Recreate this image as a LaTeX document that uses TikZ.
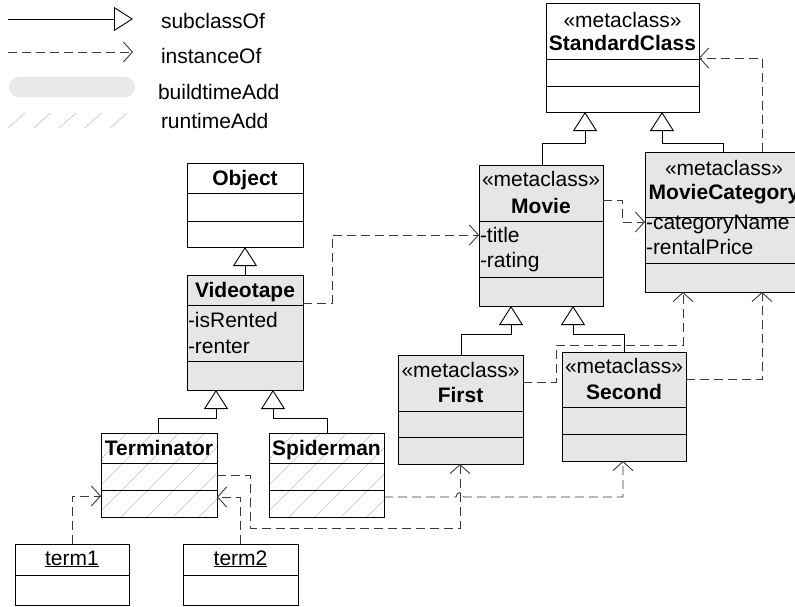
\documentclass[tikz,border=0pt]{standalone}
\usepackage{fontspec}
\setmainfont{Liberation Sans}
\usetikzlibrary{arrows.meta}
\definecolor{boxgray}{HTML}{E6E6E6}
\definecolor{legendgray}{HTML}{E8E8E8}
\definecolor{dashgray}{HTML}{3A3A3A}
\definecolor{hatchgray}{HTML}{C4C4C4}
\tikzset{
  cls/.style={draw=black, line width=0.9pt, inner sep=0pt, outer sep=0pt, anchor=north west},
  metafill/.style={fill=boxgray},
  divider/.style={draw=black, line width=0.9pt},
  txt/.style={inner sep=0pt, outer sep=0pt, font=\fontsize{21}{25}\selectfont},
  btxt/.style={txt, font=\fontsize{21}{25}\selectfont\bfseries},
  subarrow/.style={draw=black, line width=0.9pt, -{Triangle[open, length=19pt, width=24pt, line width=0.9pt]}},
  instarrow/.style={draw=dashgray, line width=0.9pt, dash pattern=on 9pt off 5pt, -{Straight Barb[length=9pt, width=20pt, line width=0.9pt]}},
  hatchline/.style={draw=hatchgray, line width=0.6pt},
}
\begin{document}
\begin{tikzpicture}[x=1pt, y=-1pt]
\useasboundingbox (0,0) rectangle (795,606);

% ---------------- legend ----------------
\coordinate (lg1a) at (8,19); \coordinate (lg1b) at (133,19);
\draw[subarrow] (lg1a) -- (lg1b);
\node[txt, anchor=base west] (lg1t) at (161,28) {subclassOf};
\coordinate (lg2a) at (8,52); \coordinate (lg2b) at (133,52);
\draw[instarrow] (lg2a) -- (lg2b);
\node[txt, anchor=base west] (lg2t) at (161,63) {instanceOf};
\node[fill=legendgray, rounded corners=10pt, minimum width=126pt, minimum height=20pt, anchor=north west, inner sep=0pt, outer sep=0pt] (lg3) at (9,77) {};
\node[txt, anchor=base west] (lg3t) at (158,99) {buildtimeAdd};
\coordinate (lg4a) at (8,113); \coordinate (lg4b) at (128,128);
\begin{scope}
  \clip (lg4a) rectangle (lg4b);
  \foreach \i in {0,...,4} \draw[hatchline] (8+25.5*\i,128) -- ++(17,-15);
\end{scope}
\node[txt, anchor=base west] (lg4t) at (161,128) {runtimeAdd};

% ---------------- StandardClass ----------------
\node[cls, minimum width=153pt, minimum height=109pt] (StandardClass) at (546,3) {};
\draw[divider] (StandardClass.west |- 0,59) -- (StandardClass.east |- 0,59);
\draw[divider] (StandardClass.west |- 0,86) -- (StandardClass.east |- 0,86);
\node[txt, anchor=base] (StandardClass-st) at (StandardClass.center |- 0,27) {«metaclass»};
\node[btxt, anchor=base] (StandardClass-n) at (StandardClass.center |- 0,50) {StandardClass};

% ---------------- Movie ----------------
\node[cls, metafill, minimum width=124pt, minimum height=141pt] (Movie) at (479,165) {};
\draw[divider] (Movie.west |- 0,221) -- (Movie.east |- 0,221);
\draw[divider] (Movie.west |- 0,277) -- (Movie.east |- 0,277);
\node[txt, anchor=base] (Movie-st) at (Movie.center |- 0,186) {«metaclass»};
\node[btxt, anchor=base] (Movie-n) at (Movie.center |- 0,213) {Movie};
\node[txt, anchor=base west] (Movie-a1) at (480,242) {-title};
\node[txt, anchor=base west] (Movie-a2) at (480,267) {-rating};

% ---------------- MovieCategory ----------------
\node[cls, metafill, minimum width=158pt, minimum height=140pt] (MovieCategory) at (645,152) {};
\draw[divider] (MovieCategory.west |- 0,217) -- (MovieCategory.east |- 0,217);
\draw[divider] (MovieCategory.west |- 0,263) -- (MovieCategory.east |- 0,263);
\node[txt, anchor=base] (MovieCategory-st) at (MovieCategory.center |- 0,175) {«metaclass»};
\node[btxt, anchor=base] (MovieCategory-n) at (MovieCategory.center |- 0,199) {MovieCategory};
\node[txt, anchor=base west] (MovieCategory-a1) at (646,229) {-categoryName};
\node[txt, anchor=base west] (MovieCategory-a2) at (646,254) {-rentalPrice};

% ---------------- Object ----------------
\node[cls, minimum width=116pt, minimum height=84pt] (Object) at (187,163) {};
\draw[divider] (Object.west |- 0,193) -- (Object.east |- 0,193);
\draw[divider] (Object.west |- 0,221) -- (Object.east |- 0,221);
\node[btxt, anchor=base] (Object-n) at (Object.center |- 0,185) {Object};

% ---------------- Videotape ----------------
\node[cls, metafill, minimum width=116pt, minimum height=115pt] (Videotape) at (187,275) {};
\draw[divider] (Videotape.west |- 0,305) -- (Videotape.east |- 0,305);
\draw[divider] (Videotape.west |- 0,361) -- (Videotape.east |- 0,361);
\node[btxt, anchor=base] (Videotape-n) at (Videotape.center |- 0,297) {Videotape};
\node[txt, anchor=base west] (Videotape-a1) at (188,327) {-isRented};
\node[txt, anchor=base west] (Videotape-a2) at (188,353) {-renter};

% ---------------- Terminator / Spiderman (hatched) ----------------
\node[cls, minimum width=116pt, minimum height=84pt] (Terminator) at (101,433) {};
\node[cls, minimum width=115pt, minimum height=84pt] (Spiderman) at (269,433) {};
\begin{scope}
  \clip (Terminator.south west) rectangle (Terminator.north east);
  \foreach \i in {0,...,8} \draw[hatchline] (17+26*\i,517) -- ++(84,-84);
\end{scope}
\begin{scope}
  \clip (Spiderman.south west) rectangle (Spiderman.north east);
  \foreach \i in {0,...,8} \draw[hatchline] (185+26*\i,517) -- ++(84,-84);
\end{scope}
\draw[divider] (Terminator.south west) rectangle (Terminator.north east);
\draw[divider] (Spiderman.south west) rectangle (Spiderman.north east);
\draw[divider] (Terminator.west |- 0,463) -- (Terminator.east |- 0,463);
\draw[divider] (Terminator.west |- 0,490) -- (Terminator.east |- 0,490);
\draw[divider] (Spiderman.west |- 0,463) -- (Spiderman.east |- 0,463);
\draw[divider] (Spiderman.west |- 0,490) -- (Spiderman.east |- 0,490);
\node[btxt, anchor=base] (Terminator-n) at (Terminator.center |- 0,455) {Terminator};
\node[btxt, anchor=base] (Spiderman-n) at (Spiderman.center |- 0,455) {Spiderman};

% ---------------- First / Second ----------------
\node[cls, metafill, minimum width=125pt, minimum height=109pt] (First) at (398,355) {};
\draw[divider] (First.west |- 0,411) -- (First.east |- 0,411);
\draw[divider] (First.west |- 0,437) -- (First.east |- 0,437);
\node[txt, anchor=base] (First-st) at (First.center |- 0,377) {«metaclass»};
\node[btxt, anchor=base] (First-n) at (First.center |- 0,402) {First};

\node[cls, metafill, minimum width=124pt, minimum height=109pt] (Second) at (562,352) {};
\draw[divider] (Second.west |- 0,407) -- (Second.east |- 0,407);
\draw[divider] (Second.west |- 0,434) -- (Second.east |- 0,434);
\node[txt, anchor=base] (Second-st) at (Second.center |- 0,373) {«metaclass»};
\node[btxt, anchor=base] (Second-n) at (Second.center |- 0,399) {Second};

% ---------------- term1 / term2 ----------------
\node[cls, minimum width=114pt, minimum height=61pt] (term1) at (15,544) {};
\draw[divider] (term1.west |- 0,575) -- (term1.east |- 0,575);
\node[txt, anchor=base] (term1-n) at (term1.center |- 0,565) {\underline{term1}};
\node[cls, minimum width=115pt, minimum height=61pt] (term2) at (183,544) {};
\draw[divider] (term2.west |- 0,575) -- (term2.east |- 0,575);
\node[txt, anchor=base] (term2-n) at (term2.center |- 0,565) {\underline{term2}};

% ---------------- subclassOf connectors ----------------
\draw[subarrow] (542,0 |- Movie.north) |- (585,143) -- (585,0 |- StandardClass.south);
\draw[subarrow] (723,0 |- MovieCategory.north) |- (662,143) -- (662,0 |- StandardClass.south);
\draw[subarrow] (245,0 |- Videotape.north) -- (245,0 |- Object.south);
\draw[subarrow] (158,0 |- Terminator.north) |- (216,418) -- (216,0 |- Videotape.south);
\draw[subarrow] (327,0 |- Spiderman.north) |- (273,418) -- (273,0 |- Videotape.south);
\draw[subarrow] (461,0 |- First.north) |- (511,334) -- (511,0 |- Movie.south);
\draw[subarrow] (624,0 |- Second.north) |- (573,334) -- (573,0 |- Movie.south);

% ---------------- instanceOf connectors ----------------
\draw[instarrow] (762,0 |- MovieCategory.north) |- (StandardClass.east |- 0,58);
\draw[instarrow] (Movie.east |- 0,200) -| (622,222) -- (MovieCategory.west |- 0,222);
\draw[instarrow] (Videotape.east |- 0,303) -| (332,235) -- (Movie.west |- 0,235);
\draw[instarrow] (First.east |- 0,382) -| (556,345) -| (683,0 |- MovieCategory.south);
\draw[instarrow] (Second.east |- 0,379) -| (762,0 |- MovieCategory.south);
\draw[instarrow] (Terminator.east |- 0,475) -| (250,528) -| (460,0 |- First.south);
\draw[instarrow] (Spiderman.east |- 0,497) -- (456,497) .. controls (456,491) and (464,491) .. (464,497) -| (623,0 |- Second.south);
\draw[instarrow] (72,0 |- term1.north) |- (Terminator.west |- 0,496);
\draw[instarrow] (240,0 |- term2.north) |- (Terminator.east |- 0,497);
\end{tikzpicture}
\end{document}
